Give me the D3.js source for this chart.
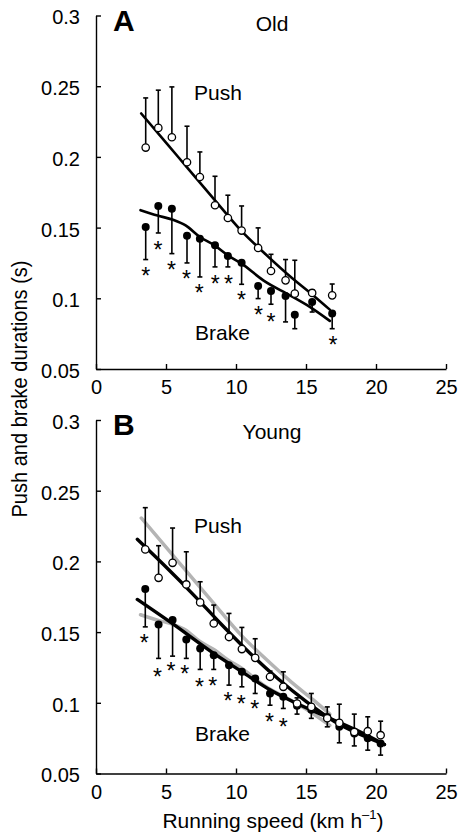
<!DOCTYPE html>
<html>
<head>
<meta charset="utf-8">
<script src="https://cdn.jsdelivr.net/npm/d3@7"></script>
<style>
  body { margin: 0; background: #fff; }
  svg { display: block; font-family: "Liberation Sans", Arial, sans-serif; }
</style>
</head>
<body>
<svg id="chart"></svg>
<script>
// Panel A - old runners
var speedA = [3.55, 4.45, 5.42, 6.5, 7.42, 8.5, 9.42, 10.4, 11.58, 12.5, 13.54, 14.2, 15.44, 16.87];
var pushA = [0.2066, 0.2205, 0.2139, 0.1962, 0.1858, 0.1658, 0.1568, 0.1479, 0.1356, 0.1193, 0.1127, 0.1033, 0.1038, 0.1021];
var pushATop = [0.2417, 0.2472, 0.2495, 0.2217, 0.2035, 0.1863, 0.1729, 0.1653, 0.1498, 0.1311, 0.1274, 0.1269, 0.106, 0.1101];
var brakeA = [0.1505, 0.1653, 0.1634, 0.1443, 0.1422, 0.1375, 0.13, 0.1252, 0.1087, 0.1052, 0.1017, 0.0884, 0.0974, 0.0892];
var brakeABottom = [0.1274, 0.1462, 0.1316, 0.125, 0.1151, 0.1222, 0.1222, 0.1099, 0.0998, 0.0958, 0.0833, 0.0785, 0.0903, 0.0785];
var starSpeedA = [3.55, 4.42, 5.4, 6.47, 7.38, 8.52, 9.47, 10.4, 11.6, 12.5, 16.93];
var starA = [0.1193, 0.138, 0.1233, 0.117, 0.1075, 0.1139, 0.1139, 0.1026, 0.0915, 0.0868, 0.0703];
var fitPushASpeed = [3.23, 5.0, 6.5, 8.5, 10.4, 12.0, 14.0, 15.5, 16.7];
var fitPushA = [0.2307, 0.2101, 0.1926, 0.1693, 0.1475, 0.1322, 0.1143, 0.1022, 0.092];
var fitBrakeASpeed = [3.18, 4.4, 5.5, 6.4, 7.4, 8.5, 9.4, 10.4, 11.95, 13.85, 15.27, 16.7];
var fitBrakeA = [0.1623, 0.1585, 0.1555, 0.1515, 0.1435, 0.1372, 0.1305, 0.1245, 0.1127, 0.1021, 0.0939, 0.084];

// Panel B - young runners
var speedB = [3.52, 4.47, 5.47, 6.45, 7.44, 8.41, 9.5, 10.42, 11.37, 12.43, 13.38, 14.36, 15.38, 16.52, 17.38, 18.45, 19.41, 20.33];
var pushB = [0.2085, 0.1884, 0.199, 0.1837, 0.171, 0.1561, 0.1465, 0.138, 0.1318, 0.1184, 0.1113, 0.0995, 0.0971, 0.0891, 0.0858, 0.0794, 0.0799, 0.0771];
var pushBTop = [0.238, 0.2111, 0.2236, 0.2068, 0.1856, 0.1691, 0.1632, 0.1533, 0.1453, 0.1224, 0.1219, 0.1035, 0.1066, 0.0971, 0.099, 0.092, 0.0901, 0.087];
var brakeB = [0.1804, 0.1554, 0.1585, 0.1448, 0.1384, 0.1337, 0.1266, 0.1219, 0.1172, 0.1066, 0.1042, 0.098, 0.095, 0.09, 0.083, 0.0783, 0.075, 0.0712];
var brakeBBottom = [0.1537, 0.1314, 0.133, 0.1314, 0.1236, 0.1236, 0.1125, 0.1113, 0.1066, 0.0983, 0.096, 0.092, 0.089, 0.083, 0.0717, 0.0695, 0.0665, 0.063];
var starSpeedB = [3.45, 4.4, 5.35, 6.33, 7.4, 8.33, 9.43, 10.38, 11.33, 12.4, 13.38];
var starB = [0.1455, 0.1219, 0.1261, 0.1236, 0.1148, 0.1153, 0.1049, 0.1026, 0.0995, 0.0901, 0.0865];
var fitPushBSpeed = [2.95, 5.0, 7.0, 9.0, 11.0, 13.0, 15.0, 17.0, 19.0, 20.6];
var fitPushB = [0.2156, 0.196, 0.176, 0.155, 0.135, 0.117, 0.101, 0.087, 0.077, 0.0705];
var fitBrakeBSpeed = [2.95, 5.44, 8.41, 10.43, 12.45, 14.35, 16.5, 18.6, 20.6];
var fitBrakeB = [0.1731, 0.1561, 0.1349, 0.1219, 0.109, 0.0995, 0.09, 0.0807, 0.0705];

var yTicks = [0.05, 0.1, 0.15, 0.2, 0.25, 0.3];
var yTickLabels = ["0.05", "0.1", "0.15", "0.2", "0.25", "0.3"];
var xTicks = [0, 5, 10, 15, 20, 25];

var width = 459;
var height = 835;
var left = 96;
var right = 446;

var svg = d3.select("#chart")
    .attr("width", width)
    .attr("height", height);

var xScale = d3.scaleLinear().domain([0, 25]).range([left, right]);

function zip(xs, ys) {
  return xs.map(function(x, i) { return [x, ys[i]]; });
}

function drawPanel(p) {
  var yScale = d3.scaleLinear().domain([0.05, 0.3]).range([p.bottom, p.top]);
  var g = svg.append("g");

  // axes
  var xAxis = d3.axisBottom(xScale)
      .tickValues(xTicks)
      .tickSizeInner(-5)
      .tickSizeOuter(0)
      .tickPadding(11);
  var yAxis = d3.axisLeft(yScale)
      .tickValues(yTicks)
      .tickFormat(function(d, i) { return yTickLabels[i]; })
      .tickSizeInner(-5)
      .tickSizeOuter(0)
      .tickPadding(16);

  var gx = g.append("g")
      .attr("transform", "translate(0," + p.bottom + ")")
      .call(xAxis);
  var gy = g.append("g")
      .attr("transform", "translate(" + left + ",0)")
      .call(yAxis);
  [gx, gy].forEach(function(a) {
    a.select(".domain").attr("stroke-width", 1.4);
    a.selectAll(".tick line").attr("stroke-width", 1.4);
    a.selectAll("text").style("font-size", "20px").attr("fill", "#000");
  });
  gx.selectAll("text").attr("dy", "0.71em");
  gy.selectAll("text").attr("dy", "0.42em");

  var line = d3.line()
      .x(function(d) { return xScale(d[0]); })
      .y(function(d) { return yScale(d[1]); })
      .curve(d3.curveMonotoneX);

  // grey fits (old group, repeated in B)
  if (p.grey) {
    p.grey.forEach(function(f) {
      g.append("path")
          .attr("d", line(f))
          .attr("fill", "none")
          .attr("stroke", "#b4b4b4")
          .attr("stroke-width", 3.5)
          .attr("stroke-linecap", "round");
    });
  }

  p.fits.forEach(function(f) {
    g.append("path")
        .attr("d", line(f))
        .attr("fill", "none")
        .attr("stroke", "#000")
        .attr("stroke-width", p.fitWidth)
        .attr("stroke-linecap", "round");
  });

  // error bars
  function errBars(xs, ys, ends) {
    var eb = g.append("g").attr("stroke", "#000").attr("stroke-width", 1.6)
      .selectAll("g")
      .data(xs.map(function(x, i) { return {x: x, y: ys[i], e: ends[i]}; }))
      .join("g");
    eb.append("line")
        .attr("x1", function(d) { return xScale(d.x); })
        .attr("x2", function(d) { return xScale(d.x); })
        .attr("y1", function(d) { return yScale(d.y); })
        .attr("y2", function(d) { return yScale(d.e); });
    eb.append("line")
        .attr("x1", function(d) { return xScale(d.x) - 2.5; })
        .attr("x2", function(d) { return xScale(d.x) + 2.5; })
        .attr("y1", function(d) { return yScale(d.e); })
        .attr("y2", function(d) { return yScale(d.e); });
  }
  errBars(p.speed, p.brake, p.brakeEnd);
  errBars(p.speed, p.push, p.pushEnd);

  // brake points (filled)
  g.append("g")
    .selectAll("circle")
    .data(zip(p.speed, p.brake))
    .join("circle")
      .attr("cx", function(d) { return xScale(d[0]); })
      .attr("cy", function(d) { return yScale(d[1]); })
      .attr("r", 4)
      .attr("fill", "#000");

  // push points (open)
  g.append("g")
    .selectAll("circle")
    .data(zip(p.speed, p.push))
    .join("circle")
      .attr("cx", function(d) { return xScale(d[0]); })
      .attr("cy", function(d) { return yScale(d[1]); })
      .attr("r", 3.7)
      .attr("fill", "#fff")
      .attr("stroke", "#000")
      .attr("stroke-width", 1.3);

  // significance stars
  g.append("g")
    .selectAll("text")
    .data(zip(p.starSpeed, p.star))
    .join("text")
      .attr("x", function(d) { return xScale(d[0]); })
      .attr("y", function(d) { return yScale(d[1]) + 13; })
      .attr("text-anchor", "middle")
      .style("font-size", "23px")
      .text("*");

  // labels
  g.append("text")
      .attr("x", 113)
      .attr("y", p.top + 15)
      .style("font-size", "30px")
      .style("font-weight", "bold")
      .text(p.letter);
  g.append("text")
      .attr("x", 272)
      .attr("y", p.top + p.titleDy)
      .attr("text-anchor", "middle")
      .style("font-size", "21px")
      .text(p.title);
  g.append("text")
      .attr("x", 194)
      .attr("y", p.pushY)
      .style("font-size", "21px")
      .text("Push");
  g.append("text")
      .attr("x", 195)
      .attr("y", p.brakeY)
      .style("font-size", "21px")
      .text("Brake");
}

drawPanel({
  top: 15.5, bottom: 369, letter: "A", title: "Old", titleDy: 15.5,
  pushY: 100, brakeY: 340, fitWidth: 2.6,
  speed: speedA, push: pushA, pushEnd: pushATop, brake: brakeA, brakeEnd: brakeABottom,
  starSpeed: starSpeedA, star: starA,
  fits: [zip(fitPushASpeed, fitPushA), zip(fitBrakeASpeed, fitBrakeA)]
});

drawPanel({
  top: 420, bottom: 773.5, letter: "B", title: "Young", titleDy: 19,
  pushY: 533, brakeY: 741, fitWidth: 3.4,
  speed: speedB, push: pushB, pushEnd: pushBTop, brake: brakeB, brakeEnd: brakeBBottom,
  starSpeed: starSpeedB, star: starB,
  grey: [zip(fitPushASpeed, fitPushA), zip(fitBrakeASpeed, fitBrakeA)],
  fits: [zip(fitPushBSpeed, fitPushB), zip(fitBrakeBSpeed, fitBrakeB)]
});

// axis titles
svg.append("text")
    .attr("transform", "translate(27,389) rotate(-90)")
    .attr("text-anchor", "middle")
    .attr("textLength", 257)
    .attr("lengthAdjust", "spacingAndGlyphs")
    .style("font-size", "22px")
    .text("Push and brake durations (s)");

var xt = svg.append("text")
    .attr("x", 273)
    .attr("y", 828)
    .attr("text-anchor", "middle")
    .style("font-size", "21px");
xt.append("tspan").text("Running speed (km h");
xt.append("tspan").attr("dy", -9).style("font-size", "13px").text("\u20131");
xt.append("tspan").attr("dy", 9).text(")");
</script>
</body>
</html>
